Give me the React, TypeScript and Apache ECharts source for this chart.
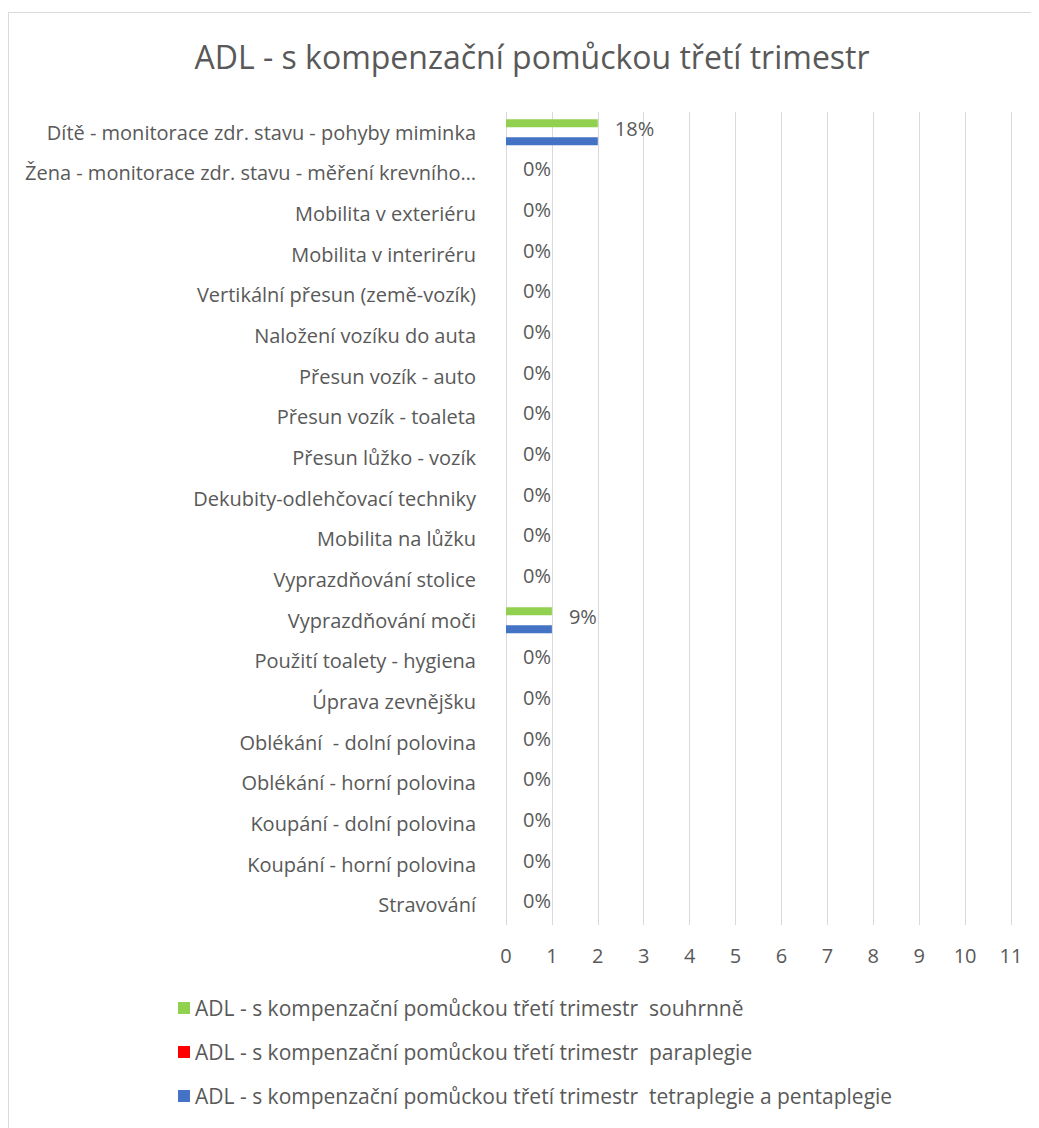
import React, { useEffect, useRef } from "react";
import * as echarts from "echarts";

const categories = [
  "Stravování",
  "Koupání - horní polovina",
  "Koupání - dolní polovina",
  "Oblékání - horní polovina",
  "Oblékání  - dolní polovina",
  "Úprava zevnějšku",
  "Použití toalety - hygiena",
  "Vyprazdňování moči",
  "Vyprazdňování stolice",
  "Mobilita na lůžku",
  "Dekubity-odlehčovací techniky",
  "Přesun lůžko - vozík",
  "Přesun vozík - toaleta",
  "Přesun vozík - auto",
  "Naložení vozíku do auta",
  "Vertikální přesun (země-vozík)",
  "Mobilita v interiréru",
  "Mobilita v exteriéru",
  "Žena - monitorace zdr. stavu - měření krevního…",
  "Dítě - monitorace zdr. stavu - pohyby miminka",
];

const souhrnne = [0, 0, 0, 0, 0, 0, 0, 1, 0, 0, 0, 0, 0, 0, 0, 0, 0, 0, 0, 2];
const paraplegie = [0, 0, 0, 0, 0, 0, 0, 0, 0, 0, 0, 0, 0, 0, 0, 0, 0, 0, 0, 0];
const tetraplegie = [0, 0, 0, 0, 0, 0, 0, 1, 0, 0, 0, 0, 0, 0, 0, 0, 0, 0, 0, 2];
const pctLabels = ["0%", "0%", "0%", "0%", "0%", "0%", "0%", "9%", "0%", "0%", "0%", "0%", "0%", "0%", "0%", "0%", "0%", "0%", "0%", "18%"];

const xTicks = [0, 1, 2, 3, 4, 5, 6, 7, 8, 9, 10, 11];

const titleText = "ADL - s kompenzační pomůckou třetí trimestr";
const seriesNames = [
  "ADL - s kompenzační pomůckou třetí trimestr  souhrnně",
  "ADL - s kompenzační pomůckou třetí trimestr  paraplegie",
  "ADL - s kompenzační pomůckou třetí trimestr  tetraplegie a pentaplegie",
];
const colors = ["#92d050", "#ff0000", "#4472c4"];

const FONT = "'Open Sans', 'Noto Sans', sans-serif";
const TXT = "#595959";
const FS = 20;
const W = 1046;
const H = 1120;

export default function App() {
  const ref = useRef<HTMLDivElement>(null);
  useEffect(() => {
    if (!ref.current) return;
    const chart = echarts.init(ref.current, null, { renderer: "svg" });
    const barCommon = {
      type: "bar",
      barWidth: 8,
      barGap: "12.5%",
    };
    chart.setOption({
      animation: false,
      textStyle: { fontFamily: FONT },
      title: {
        text: titleText,
        left: "center",
        top: 22,
        textStyle: { fontFamily: FONT, fontSize: 32, fontWeight: "normal", color: TXT },
      },
      legend: {
        orient: "vertical",
        left: 164,
        top: 978,
        itemWidth: 12,
        itemHeight: 12,
        itemGap: 20,
        icon: "rect",
        data: seriesNames,
        textStyle: { fontFamily: FONT, fontSize: 21, color: TXT, lineHeight: 24 },
      },
      grid: { left: 497, right: 44, top: 99, bottom: 208, containLabel: false },
      xAxis: {
        type: "value",
        min: 0,
        max: xTicks[xTicks.length - 1],
        interval: 1,
        axisLine: { show: false },
        axisTick: { show: false },
        axisLabel: { color: TXT, fontSize: FS, fontFamily: FONT, margin: 20 },
        splitLine: { show: true, lineStyle: { color: "#d9d9d9", width: 1 } },
      },
      yAxis: {
        type: "category",
        data: categories,
        axisLine: { show: false },
        axisTick: { show: false },
        axisLabel: { color: TXT, fontSize: FS, fontFamily: FONT, margin: 30 },
      },
      series: [
        {
          ...barCommon,
          name: seriesNames[0],
          data: souhrnne,
          itemStyle: { color: colors[0] },
          label: {
            show: true,
            position: "right",
            distance: 17,
            offset: [0, 5],
            color: TXT,
            fontSize: FS,
            fontFamily: FONT,
            formatter: (p: any) => pctLabels[p.dataIndex],
          },
        },
        {
          ...barCommon,
          name: seriesNames[1],
          data: paraplegie,
          itemStyle: { color: colors[1] },
        },
        {
          ...barCommon,
          name: seriesNames[2],
          data: tetraplegie,
          itemStyle: { color: colors[2] },
        },
      ],
    });
    return () => chart.dispose();
  }, []);
  return (
    <div style={{ position: "relative", width: 1031, height: 1120, overflow: "hidden" }}>
      <div
        style={{
          position: "absolute",
          left: 0,
          top: 4,
          borderLeft: "1px solid #d9d9d9",
          borderTop: "1px solid #d9d9d9",
          width: W,
          height: H,
        }}
      >
        <div ref={ref} style={{ width: W, height: H }} />
      </div>
    </div>
  );
}
